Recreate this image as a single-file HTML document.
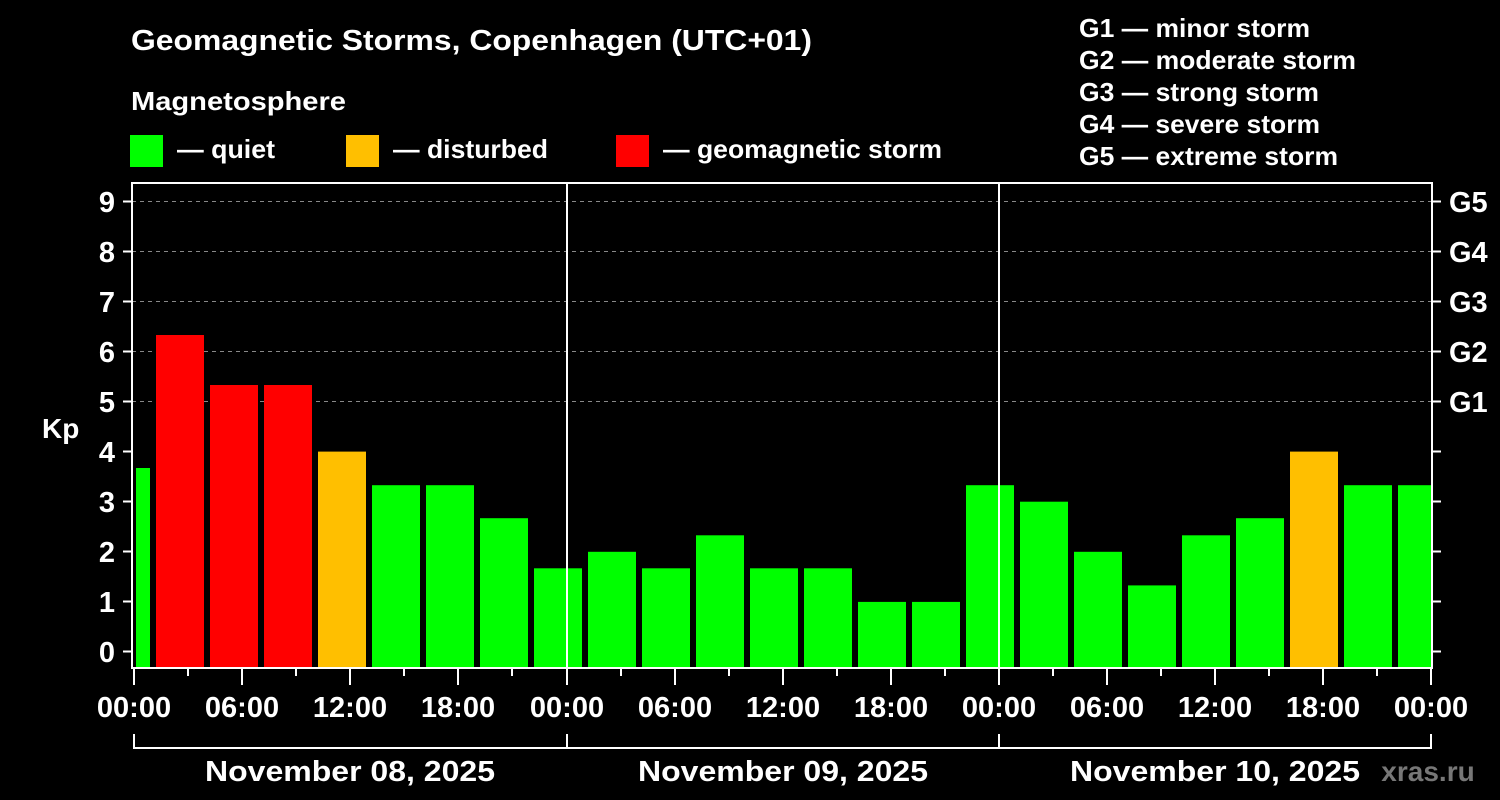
<!DOCTYPE html>
<html><head><meta charset="utf-8"><style>
html,body{margin:0;padding:0;background:#000;}
svg{display:block;}
text{font-family:"Liberation Sans",Arial,sans-serif;font-weight:bold;fill:#fff;}
</style></head><body>
<svg width="1500" height="800" viewBox="0 0 1500 800" xmlns="http://www.w3.org/2000/svg">
<rect width="1500" height="800" fill="#000"/>
<text x="131" y="50" font-size="29" textLength="681" lengthAdjust="spacingAndGlyphs">Geomagnetic Storms, Copenhagen (UTC+01)</text>
<text x="131" y="110" font-size="26" textLength="215" lengthAdjust="spacingAndGlyphs">Magnetosphere</text>
<rect x="130" y="135" width="33" height="32" fill="#00ff00"/>
<text x="177" y="158" font-size="26" textLength="98" lengthAdjust="spacingAndGlyphs">— quiet</text>
<rect x="346" y="135" width="33" height="32" fill="#ffbf00"/>
<text x="393" y="158" font-size="26" textLength="155" lengthAdjust="spacingAndGlyphs">— disturbed</text>
<rect x="616" y="135" width="33" height="32" fill="#ff0000"/>
<text x="663" y="158" font-size="26" textLength="279" lengthAdjust="spacingAndGlyphs">— geomagnetic storm</text>
<g font-size="26">
<text x="1079" y="37" textLength="231" lengthAdjust="spacingAndGlyphs">G1 — minor storm</text>
<text x="1079" y="69" textLength="277" lengthAdjust="spacingAndGlyphs">G2 — moderate storm</text>
<text x="1079" y="101" textLength="240" lengthAdjust="spacingAndGlyphs">G3 — strong storm</text>
<text x="1079" y="133" textLength="241" lengthAdjust="spacingAndGlyphs">G4 — severe storm</text>
<text x="1079" y="165" textLength="259" lengthAdjust="spacingAndGlyphs">G5 — extreme storm</text>
</g>
<g stroke="#888" stroke-width="1" stroke-dasharray="4,4">
<line x1="132" x2="1432" y1="201.5" y2="201.5"/>
<line x1="132" x2="1432" y1="251.5" y2="251.5"/>
<line x1="132" x2="1432" y1="301.5" y2="301.5"/>
<line x1="132" x2="1432" y1="351.5" y2="351.5"/>
<line x1="132" x2="1432" y1="401.5" y2="401.5"/>
</g>
<g>
<rect x="136" y="468" width="14" height="200" fill="#00ff00"/>
<rect x="156" y="335" width="48" height="333" fill="#ff0000"/>
<rect x="210" y="385" width="48" height="283" fill="#ff0000"/>
<rect x="264" y="385" width="48" height="283" fill="#ff0000"/>
<rect x="318" y="451.6" width="48" height="216.4" fill="#ffbf00"/>
<rect x="372" y="485.2" width="48" height="182.8" fill="#00ff00"/>
<rect x="426" y="485.2" width="48" height="182.8" fill="#00ff00"/>
<rect x="480" y="518.2" width="48" height="149.8" fill="#00ff00"/>
<rect x="534" y="568.3" width="48" height="99.7" fill="#00ff00"/>
<rect x="588" y="551.8" width="48" height="116.2" fill="#00ff00"/>
<rect x="642" y="568.3" width="48" height="99.7" fill="#00ff00"/>
<rect x="696" y="535.3" width="48" height="132.7" fill="#00ff00"/>
<rect x="750" y="568.3" width="48" height="99.7" fill="#00ff00"/>
<rect x="804" y="568.3" width="48" height="99.7" fill="#00ff00"/>
<rect x="858" y="601.9" width="48" height="66.1" fill="#00ff00"/>
<rect x="912" y="601.9" width="48" height="66.1" fill="#00ff00"/>
<rect x="966" y="485.2" width="48" height="182.8" fill="#00ff00"/>
<rect x="1020" y="501.7" width="48" height="166.3" fill="#00ff00"/>
<rect x="1074" y="551.8" width="48" height="116.2" fill="#00ff00"/>
<rect x="1128" y="585.4" width="48" height="82.6" fill="#00ff00"/>
<rect x="1182" y="535.3" width="48" height="132.7" fill="#00ff00"/>
<rect x="1236" y="518.2" width="48" height="149.8" fill="#00ff00"/>
<rect x="1290" y="451.6" width="48" height="216.4" fill="#ffbf00"/>
<rect x="1344" y="485.2" width="48" height="182.8" fill="#00ff00"/>
<rect x="1398" y="485.2" width="33" height="182.8" fill="#00ff00"/>
</g>
<g stroke="#fff" stroke-width="2" fill="none">
<rect x="132" y="183" width="1300" height="485"/>
<line x1="567" y1="183" x2="567" y2="668"/>
<line x1="999" y1="183" x2="999" y2="668"/>
<polyline points="134,734 134,748 1431,748 1431,734"/>
<line x1="567" y1="734" x2="567" y2="748"/>
<line x1="999" y1="734" x2="999" y2="748"/>
</g>
<g stroke="#fff" stroke-width="2">
<line x1="123" x2="132" y1="201.5" y2="201.5"/><line x1="1432" x2="1441" y1="201.5" y2="201.5"/>
<line x1="123" x2="132" y1="251.5" y2="251.5"/><line x1="1432" x2="1441" y1="251.5" y2="251.5"/>
<line x1="123" x2="132" y1="301.5" y2="301.5"/><line x1="1432" x2="1441" y1="301.5" y2="301.5"/>
<line x1="123" x2="132" y1="351.5" y2="351.5"/><line x1="1432" x2="1441" y1="351.5" y2="351.5"/>
<line x1="123" x2="132" y1="401.5" y2="401.5"/><line x1="1432" x2="1441" y1="401.5" y2="401.5"/>
<line x1="123" x2="132" y1="451.5" y2="451.5"/><line x1="1432" x2="1441" y1="451.5" y2="451.5"/>
<line x1="123" x2="132" y1="501.5" y2="501.5"/><line x1="1432" x2="1441" y1="501.5" y2="501.5"/>
<line x1="123" x2="132" y1="551.5" y2="551.5"/><line x1="1432" x2="1441" y1="551.5" y2="551.5"/>
<line x1="123" x2="132" y1="601.5" y2="601.5"/><line x1="1432" x2="1441" y1="601.5" y2="601.5"/>
<line x1="123" x2="132" y1="651.5" y2="651.5"/><line x1="1432" x2="1441" y1="651.5" y2="651.5"/>
<line x1="134" x2="134" y1="668" y2="685"/>
<line x1="188" x2="188" y1="668" y2="676"/>
<line x1="242" x2="242" y1="668" y2="685"/>
<line x1="296" x2="296" y1="668" y2="676"/>
<line x1="350" x2="350" y1="668" y2="685"/>
<line x1="404" x2="404" y1="668" y2="676"/>
<line x1="458" x2="458" y1="668" y2="685"/>
<line x1="512" x2="512" y1="668" y2="676"/>
<line x1="567" x2="567" y1="668" y2="685"/>
<line x1="621" x2="621" y1="668" y2="676"/>
<line x1="675" x2="675" y1="668" y2="685"/>
<line x1="729" x2="729" y1="668" y2="676"/>
<line x1="783" x2="783" y1="668" y2="685"/>
<line x1="837" x2="837" y1="668" y2="676"/>
<line x1="891" x2="891" y1="668" y2="685"/>
<line x1="945" x2="945" y1="668" y2="676"/>
<line x1="999" x2="999" y1="668" y2="685"/>
<line x1="1053" x2="1053" y1="668" y2="676"/>
<line x1="1107" x2="1107" y1="668" y2="685"/>
<line x1="1161" x2="1161" y1="668" y2="676"/>
<line x1="1215" x2="1215" y1="668" y2="685"/>
<line x1="1269" x2="1269" y1="668" y2="676"/>
<line x1="1323" x2="1323" y1="668" y2="685"/>
<line x1="1377" x2="1377" y1="668" y2="676"/>
<line x1="1431" x2="1431" y1="668" y2="685"/>
</g>
<g font-size="29" text-anchor="end">
<text x="115" y="212">9</text><text x="115" y="262">8</text><text x="115" y="312">7</text>
<text x="115" y="362">6</text><text x="115" y="412">5</text><text x="115" y="462">4</text>
<text x="115" y="512">3</text><text x="115" y="562">2</text><text x="115" y="612">1</text>
<text x="115" y="662">0</text>
</g>
<g font-size="29">
<text x="1449" y="212">G5</text><text x="1449" y="262">G4</text><text x="1449" y="312">G3</text><text x="1449" y="362">G2</text><text x="1449" y="412">G1</text>
</g>
<text x="42" y="438" font-size="28">Kp</text>
<g font-size="29" text-anchor="middle">
<text x="134" y="717">00:00</text><text x="242" y="717">06:00</text><text x="350" y="717">12:00</text><text x="458" y="717">18:00</text>
<text x="567" y="717">00:00</text><text x="675" y="717">06:00</text><text x="783" y="717">12:00</text><text x="891" y="717">18:00</text>
<text x="999" y="717">00:00</text><text x="1107" y="717">06:00</text><text x="1215" y="717">12:00</text><text x="1323" y="717">18:00</text>
<text x="1431" y="717">00:00</text>
</g>
<g font-size="29" text-anchor="middle">
<text x="350" y="781" textLength="290" lengthAdjust="spacingAndGlyphs">November 08, 2025</text>
<text x="783" y="781" textLength="290" lengthAdjust="spacingAndGlyphs">November 09, 2025</text>
<text x="1215" y="781" textLength="290" lengthAdjust="spacingAndGlyphs">November 10, 2025</text>
</g>
<text x="1428" y="781" font-size="28" text-anchor="middle" style="fill:#777">xras.ru</text>
</svg>
</body></html>
